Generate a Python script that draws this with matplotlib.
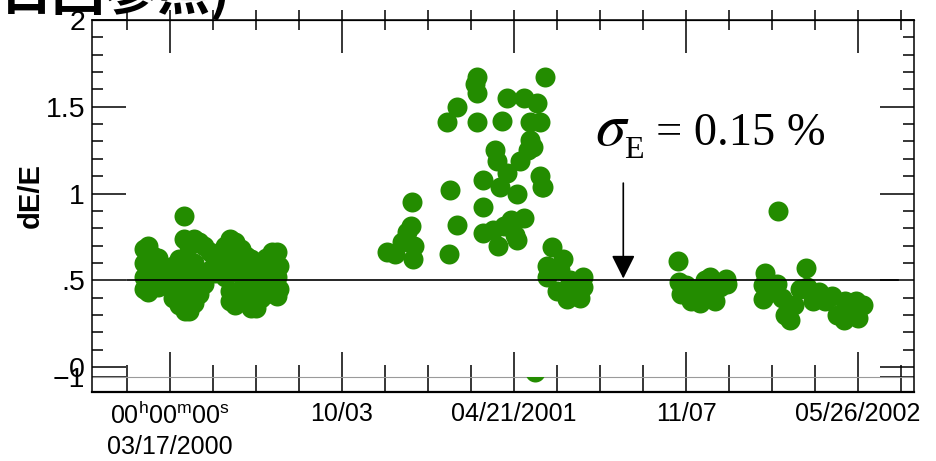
import matplotlib
matplotlib.use("Agg")
import matplotlib.pyplot as plt
from matplotlib import font_manager
from matplotlib.path import Path

plt.rcParams['mathtext.fontset'] = 'custom'
plt.rcParams['mathtext.rm'] = 'Liberation Sans'
plt.rcParams['mathtext.it'] = 'Liberation Sans:italic'

GREEN = '#238c00'

# narrow font for the y axis if it is there
names = {f.name for f in font_manager.fontManager.ttflist}
if 'Liberation Sans Narrow' in names:
    YFONT, YSIZE, LSIZE = 'Liberation Sans Narrow', 23, 25
else:
    YFONT, YSIZE, LSIZE = 'Liberation Sans', 20.5, 21

# x: days since 03/17/2000 00h00m00s, y: dE/E
days_a = [-30, -30, -30, -30, -26, -26, -26, -20, -20, -14, -14, -14, -8, -8, -2, -2,
          4, 4, 4, 10, 10, 10, 16, 16, 16, 18, 22, 22, 22, 28, 28, 28, 28, 34, 34, 34,
          40, 40, 46, 46, 52, 52, 58, 58, 64, 64, 64, 70, 70, 70, 70, 76, 76, 76,
          82, 82, 82, 88, 88, 88, 94, 94, 94, 100, 100, 100, 106, 106, 106,
          112, 112, 112, 118, 118, 118, 124, 124, 124, 127, 127]
de_a = [0.68, 0.60, 0.52, 0.45, 0.70, 0.56, 0.43, 0.64, 0.50, 0.63, 0.55, 0.46, 0.54, 0.48, 0.52, 0.56,
        0.58, 0.46, 0.40, 0.62, 0.50, 0.36, 0.87, 0.74, 0.55, 0.32, 0.70, 0.44, 0.32, 0.74, 0.60, 0.50, 0.37,
        0.72, 0.55, 0.42, 0.70, 0.48, 0.66, 0.56, 0.62, 0.54, 0.65, 0.56, 0.70, 0.58, 0.52, 0.74, 0.62, 0.44,
        0.38, 0.72, 0.55, 0.36, 0.68, 0.60, 0.45, 0.64, 0.50, 0.38, 0.62, 0.54, 0.34, 0.58, 0.46, 0.34,
        0.60, 0.52, 0.40, 0.63, 0.48, 0.42, 0.66, 0.56, 0.46, 0.66, 0.52, 0.41, 0.58, 0.45]

days_b = [252, 262, 270, 276, 280, 281, 284, 283]
de_b = [0.66, 0.65, 0.72, 0.78, 0.81, 0.95, 0.70, 0.62]

days_c = [326, 334, 324, 334, 322, 357, 357, 355, 357, 386, 392, 411, 427, 436, 430, 419,
          419, 416, 378, 380, 407, 364, 392, 430, 434, 404, 384, 364, 411, 396, 364, 381,
          401, 388, 376, 404, 433, 422]
de_c = [1.02, 0.82, 0.65, 1.50, 1.41, 1.41, 1.67, 1.63, 1.58, 1.42, 1.55, 1.55, 1.52, 1.67, 1.41, 1.41,
        1.31, 1.25, 1.25, 1.19, 1.19, 1.08, 1.12, 1.10, 1.04, 1.00, 1.04, 0.92, 0.86, 0.85, 0.77, 0.70,
        0.76, 0.81, 0.79, 0.73, 1.04, 1.27]

days_d = [444, 457, 438, 438, 480, 450, 462, 477, 480, 465, 453, 470]
de_d = [0.69, 0.62, 0.58, 0.52, 0.52, 0.44, 0.39, 0.40, 0.46, 0.50, 0.56, 0.45]

days_e = [591, 592, 594, 600, 606, 612, 616, 622, 628, 630, 634, 640, 646, 648]
de_e = [0.61, 0.49, 0.42, 0.47, 0.38, 0.45, 0.37, 0.50, 0.52, 0.43, 0.38, 0.46, 0.51, 0.48]

days_f = [692, 690, 690, 700, 706, 712, 715, 721, 726, 733, 739, 741, 748, 755, 762, 770,
          776, 784, 791, 798, 806, 800, 785, 707]
de_f = [0.54, 0.47, 0.39, 0.43, 0.48, 0.40, 0.30, 0.27, 0.36, 0.45, 0.57, 0.46, 0.38, 0.43, 0.38, 0.41,
        0.30, 0.27, 0.32, 0.38, 0.36, 0.28, 0.38, 0.90]

# one point hidden behind the lower axis line
days_low = [424]
de_low = [-0.029]

ref_level = 0.5
axis_line = -0.058

x_tick_days = [0, 200, 400, 600, 800]
x_tick_labels = [r"$\mathrm{00^{h}00^{m}00^{s}}$" + "\n03/17/2000",
                 "10/03", "04/21/2001", "11/07", "05/26/2002"]
x_minor_days = [d for d in range(-50, 851, 50) if d % 200 != 0]

y_ticks = [axis_line, 0, 0.5, 1, 1.5, 2]
y_tick_labels = ["\u22121", "0", ".5", "1", "1.5", "2"]
y_minor = [round(0.1 * i, 1) for i in range(1, 20) if i % 5 != 0]

fig = plt.figure(figsize=(9.36, 4.61), dpi=100)
ax = fig.add_axes([92 / 936, 69 / 461, 822 / 936, 372 / 461])

for dd, vv in [(days_a, de_a), (days_b, de_b), (days_c, de_c),
               (days_d, de_d), (days_e, de_e), (days_f, de_f)]:
    ax.plot(dd, vv, 'o', ms=14.4, mew=0, color=GREEN, zorder=3)

low = ax.scatter(days_low, de_low, s=14.4 ** 2, linewidths=0, color=GREEN, zorder=3)
below = Path([(-200, -1), (2000, -1), (2000, axis_line), (-200, axis_line), (-200, -1)])
low.set_clip_path(below, ax.transData)

ax.axhline(ref_level, xmin=0.043, xmax=0.98, color='black', lw=1.2, zorder=4)
ax.axhline(axis_line, color='#9a9a9a', lw=0.8, zorder=2)

ax.set_xlim(-90.7, 865)
ax.set_ylim(-0.144, 2.0)

ax.set_xticks(x_tick_days)
ax.set_xticklabels(x_tick_labels, fontfamily='Liberation Sans', fontsize=18, linespacing=1.35)
ax.set_xticks(x_minor_days, minor=True)
ax.set_yticks(y_ticks)
ax.set_yticklabels(y_tick_labels, fontfamily=YFONT, fontsize=YSIZE)
ax.set_yticks(y_minor, minor=True)

ax.tick_params(axis='x', which='major', direction='in', length=28.8, width=1.1, pad=7, top=False)
ax.tick_params(axis='x', which='minor', direction='in', length=19.4, width=1.1, top=False)
ax.tick_params(axis='y', which='major', direction='in', length=24.5, width=1.1, pad=5, right=True)
ax.tick_params(axis='y', which='minor', direction='in', length=8, width=1.1, right=True)

for s in ax.spines.values():
    s.set_linewidth(1.1)
ax.spines['bottom'].set_linewidth(1.6)

# ticks on the top edge: long inside, short outside
top_in = ax.secondary_xaxis('top')
top_in.set_xticks(x_tick_days)
top_in.set_xticks(x_minor_days, minor=True)
top_in.tick_params(which='major', direction='in', length=23.8, width=1.1, labeltop=False)
top_in.tick_params(which='minor', direction='in', length=7.2, width=1.1)
top_out = ax.secondary_xaxis('top')
top_out.set_xticks(x_tick_days)
top_out.set_xticks(x_minor_days, minor=True)
top_out.tick_params(which='both', direction='out', length=7.2, width=1.1, labeltop=False)

fig.text(31 / 936, 1 - 195 / 461, 'dE/E', rotation=90, ha='center', va='center',
         fontfamily=YFONT, fontweight='bold', fontsize=LSIZE)

ax.annotate('', xy=(527, 0.51), xytext=(527, 1.06),
            arrowprops=dict(arrowstyle='-|>,head_length=1.0,head_width=0.5', color='black',
                            lw=1.2, shrinkA=0, shrinkB=0, mutation_scale=14.4))

# sigma_E = 0.15 % built from three pieces
fig.text(595 / 936, 1 - 145 / 461, r"$\sigma$", va='baseline', fontsize=44, math_fontfamily='stix')
fig.text(624 / 936, 1 - 158 / 461, 'E', va='baseline', fontfamily='Liberation Serif', fontsize=23)
fig.text(656 / 936, 1 - 145 / 461, '= 0.15 %', va='baseline',
         fontfamily='Liberation Serif', fontsize=33.5)

fig.text(0.0, 1 - 10 / 461, '日回参照)', va='baseline',
         fontfamily=['Noto Sans CJK JP', 'DejaVu Sans'], fontweight='bold', fontsize=38)

fig.savefig('out.png', dpi=100)
